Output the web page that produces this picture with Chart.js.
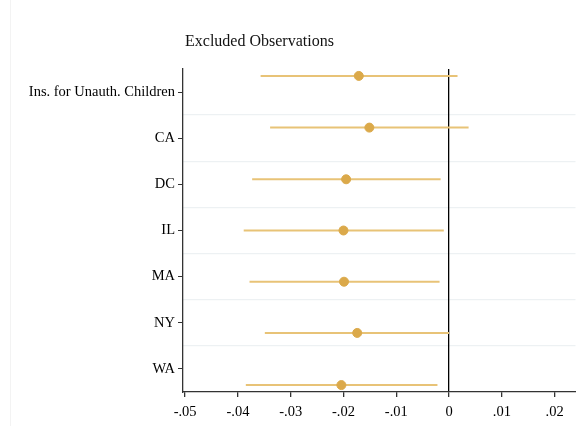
<!DOCTYPE html>
<html>
<head>
<meta charset="utf-8">
<script src="https://cdn.jsdelivr.net/npm/chart.js@4/dist/chart.umd.min.js"></script>
<style>
  body { margin: 0; background: #fff; }
  #wrap { position: relative; width: 576px; height: 426px; overflow: hidden; }
  #edge { position: absolute; left: 10px; top: 0; width: 1px; height: 426px; background: #f3f3f3; }
  #title { position: absolute; left: 185px; top: 32px; font: 16px 'Liberation Serif', serif; color: #111; }
  canvas { position: absolute; left: 0; top: 0; }
</style>
</head>
<body>
<div id="wrap">
  <div id="edge"></div>
  <canvas id="coefPlot" width="581" height="426"></canvas>
  <div id="title">Excluded Observations</div>
</div>
<script>
// Data
const rowLabels = ['Ins. for Unauth. Children', 'CA', 'DC', 'IL', 'MA', 'NY', 'WA'];
const coef  = [-0.0171, -0.0151, -0.0195, -0.0200, -0.0199, -0.0174, -0.0204];
const ciLow = [-0.0357, -0.0339, -0.0373, -0.0389, -0.0378, -0.0349, -0.0385];
const ciHigh = [0.0016, 0.0037, -0.0016, -0.0010, -0.0018, 0.0000, -0.0022];
// vertical position of each estimate (row units, 0 = first row)
const rowPos = [-0.35, 0.77, 1.89, 3.0, 4.11, 5.22, 6.35];
const xTickVals = [-0.05, -0.04, -0.03, -0.02, -0.01, 0, 0.01, 0.02];
const xTickLabels = ['-.05', '-.04', '-.03', '-.02', '-.01', '0', '.01', '.02'];

const gold = '#dba94a';
const goldLight = '#e8c377';
const axisColor = '#333';
const serif = { family: "'Liberation Serif', serif", size: 14.5 };

const ciSets = rowLabels.map((lab, i) => ({
    type: 'line',
    data: [{ x: ciLow[i], y: rowPos[i] }, { x: ciHigh[i], y: rowPos[i] }],
    yAxisID: 'y2',
    borderColor: goldLight,
    borderWidth: 2,
    pointRadius: 0,
    order: 2
}));

const pointSet = {
    type: 'scatter',
    data: coef.map((c, i) => ({ x: c, y: rowPos[i] })),
    yAxisID: 'y2',
    backgroundColor: gold,
    borderColor: gold,
    pointRadius: 4.5,
    order: 0
};

const config = {
    type: 'scatter',
    data: { datasets: [...ciSets, pointSet] },
    options: {
        responsive: false,
        animation: false,
        layout: { padding: { top: 69, left: 0, right: 0, bottom: 0 } },
        plugins: { legend: { display: false }, tooltip: { enabled: false }, title: { display: false } },
        scales: {
            x: {
                type: 'linear',
                min: -0.0504,
                max: 0.02395,
                afterBuildTicks: (scale) => { scale.ticks = xTickVals.map(v => ({ value: v })); },
                afterFit: (scale) => {
                    scale.height = 34;
                    scale.paddingLeft = 0;
                    scale.paddingRight = 0;
                },
                ticks: {
                    font: serif,
                    color: '#000',
                    padding: 6,
                    maxRotation: 0,
                    callback: (v, i) => xTickLabels[i]
                },
                grid: {
                    color: (ctx) => (ctx.tick && ctx.tick.value === 0 ? '#000' : 'rgba(0,0,0,0)'),
                    lineWidth: 1.3,
                    tickColor: axisColor,
                    tickLength: 5
                },
                border: { display: true, color: axisColor, width: 1.3 }
            },
            y: {
                type: 'category',
                labels: rowLabels,
                offset: true,
                position: 'left',
                afterFit: (scale) => { scale.width = 183; },
                ticks: { font: serif, color: '#000', padding: 3 },
                grid: { drawOnChartArea: false, tickColor: axisColor, tickLength: 5, offset: false },
                border: { display: true, color: axisColor, width: 1.3 }
            },
            y2: {
                type: 'linear',
                min: -0.5,
                max: 6.5,
                reverse: true,
                position: 'left',
                afterBuildTicks: (scale) => {
                    scale.ticks = rowLabels.slice(1).map((l, i) => ({ value: i + 0.5 }));
                },
                afterFit: (scale) => {
                    scale.width = 0;
                    scale.paddingTop = 0;
                    scale.paddingBottom = 0;
                },
                ticks: { display: false },
                grid: { color: '#edf1f3', lineWidth: 1.3, drawTicks: false, z: -2 },
                border: { display: false }
            }
        }
    }
};

const coefCtx = document.getElementById('coefPlot').getContext('2d');
const coefChart = new Chart(coefCtx, config);
</script>
</body>
</html>
